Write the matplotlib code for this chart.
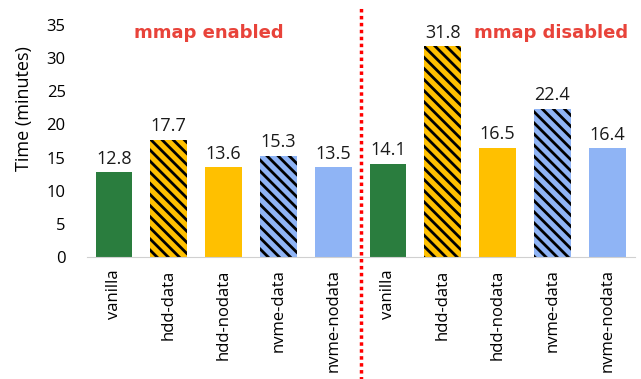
import matplotlib
matplotlib.use("Agg")
import matplotlib.pyplot as plt
from matplotlib.lines import Line2D

plt.rcParams['font.family'] = ['Open Sans', 'DejaVu Sans']
plt.rcParams['hatch.linewidth'] = 2.0

labels = ['vanilla', 'hdd-data', 'hdd-nodata', 'nvme-data', 'nvme-nodata']
enabled = [12.8, 17.7, 13.6, 15.3, 13.5]
disabled = [14.1, 31.8, 16.5, 22.4, 16.4]

colors = ['#2a7d3e', '#ffc000', '#ffc000', '#8fb4f5', '#8fb4f5']
hatches = ['', '\\\\\\', '', '\\\\\\', '']

fig = plt.figure(figsize=(6.41, 3.79), dpi=100)
ax = fig.add_axes([0.135, 0.322, 0.855, 0.612])

vals = enabled + disabled
x = list(range(len(vals)))
for i, v in enumerate(vals):
    k = i % 5
    ax.bar(i, v, width=0.67, color=colors[k], hatch=hatches[k],
           edgecolor='black' if hatches[k] else colors[k], linewidth=0)
    ax.annotate(f'{v}', (i, v), xytext=(0, 6), textcoords='offset points',
                ha='center', va='baseline', fontsize=13, color='#1a1a1a')

ax.set_xlim(-0.5, 9.5)
ax.set_ylim(0, 35)
ax.set_yticks(range(0, 36, 5))
ax.set_xticks(x)
ax.set_xticklabels(labels + labels, rotation=90, fontsize=12)
ax.tick_params(axis='y', length=0, labelsize=12, pad=15)
ax.tick_params(axis='x', length=0, pad=9)
ax.set_ylabel('Time (minutes)', fontsize=13)
ax.yaxis.set_label_coords(-0.097, 0.64)

for s in ['top', 'right', 'left']:
    ax.spines[s].set_visible(False)
ax.spines['bottom'].set_color('#d0d0d0')

ax.text(1.73, 33.0, 'mmap enabled', color='#e8433a', fontsize=13,
        fontweight='bold', ha='center', va='baseline', family='DejaVu Sans')
ax.text(7.98, 33.0, 'mmap disabled', color='#e8433a', fontsize=13,
        fontweight='bold', ha='center', va='baseline', family='DejaVu Sans')

# red dotted divider between the two groups, running past the axes
div = Line2D([4.5, 4.5], [-0.6, 1.08], transform=ax.get_xaxis_transform(),
             color='red', linestyle=(0, (1, 1)), linewidth=2.5, clip_on=False)
ax.add_line(div)

fig.savefig('out.png', dpi=100)
